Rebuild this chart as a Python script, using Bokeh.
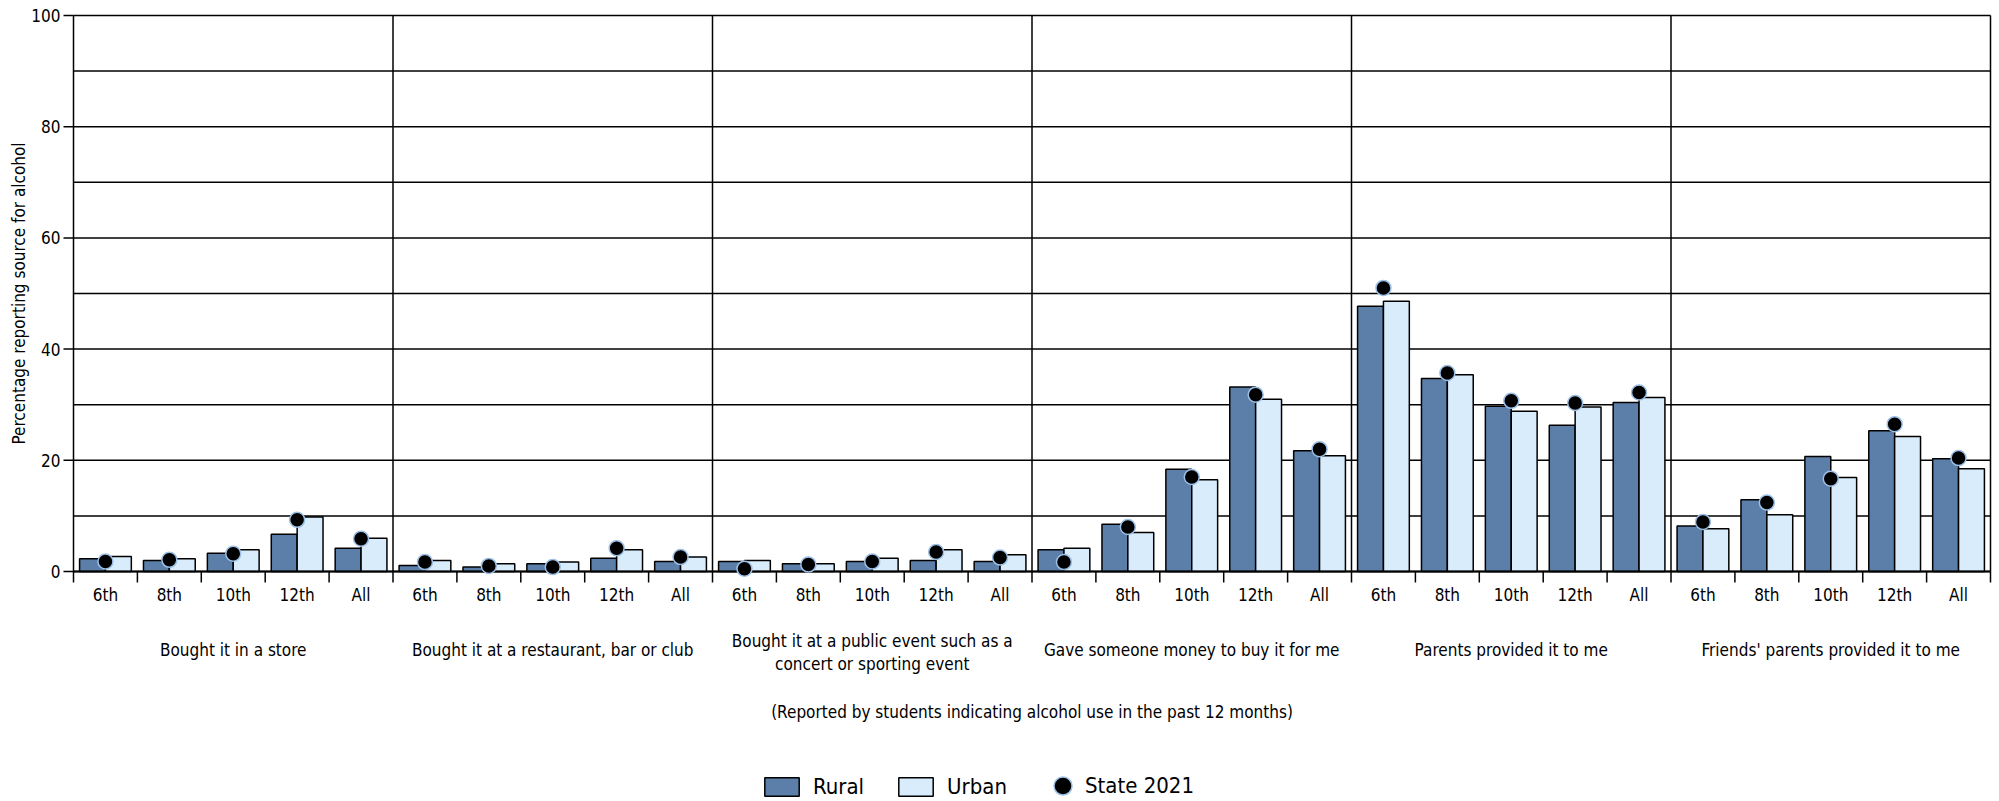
import math
from bokeh.plotting import figure
from bokeh.models import ColumnDataSource, Legend, LegendItem, Label
from bokeh.core.properties import value
from bokeh.embed import file_html
from bokeh.resources import INLINE

FONT = "DejaVu Sans Condensed, Liberation Sans"

groups = ["Bought it in a store",
          "Bought it at a restaurant, bar or club",
          "Bought it at a public event such as a\nconcert or sporting event",
          "Gave someone money to buy it for me",
          "Parents provided it to me",
          "Friends' parents provided it to me"]
grades = ["6th", "8th", "10th", "12th", "All"]

rural = [2.3, 2.0, 3.3, 6.7, 4.2,
         1.1, 0.8, 1.4, 2.4, 1.8,
         1.8, 1.4, 1.8, 2.0, 1.8,
         3.9, 8.5, 18.4, 33.2, 21.7,
         47.7, 34.7, 29.7, 26.3, 30.4,
         8.2, 12.9, 20.7, 25.3, 20.3]
urban = [2.7, 2.3, 3.9, 9.8, 6.0,
         2.0, 1.4, 1.7, 3.9, 2.6,
         2.0, 1.4, 2.4, 3.9, 3.0,
         4.2, 7.0, 16.5, 31.0, 20.8,
         48.6, 35.4, 28.8, 29.6, 31.3,
         7.7, 10.2, 16.9, 24.3, 18.5]
state = [1.8, 2.1, 3.2, 9.3, 5.9,
         1.7, 1.0, 0.8, 4.2, 2.6,
         0.5, 1.25, 1.8, 3.5, 2.5,
         1.7, 8.0, 17.0, 31.8, 22.0,
         51.0, 35.7, 30.7, 30.3, 32.2,
         8.9, 12.4, 16.7, 26.5, 20.4]

y_ticks = [0, 20, 40, 60, 80, 100]
y_grid = [0, 10, 20, 30, 40, 50, 60, 70, 80, 90, 100]
y_title = "Percentage reporting source for alcohol"
subtitle = "(Reported by students indicating alcohol use in the past 12 months)"

RURAL_C = "#5b7fa8"
URBAN_C = "#d9ecfc"
DOT_LINE = "#9cc0e6"

n = len(rural)
ng = len(groups)
per = len(grades)
YMAX = 100

# pixel geometry (frame covers whole canvas)
W, H = 1999, 801
PLOT_L, PLOT_R, PLOT_T, BASE = 73, 1990, 15, 571
ux = (PLOT_R - PLOT_L) / n          # px per category
uy = (BASE - PLOT_T) / YMAX         # px per percent
x_lo = -PLOT_L / ux
x_hi = n + (W - PLOT_R) / ux
y_hi = YMAX + PLOT_T / uy
y_lo = -(H - BASE) / uy

def px_x(px):
    return px / ux

def px_y(px):
    return px / uy

centers = [i + 0.5 for i in range(n)]
bw = 0.405
src = ColumnDataSource(dict(
    xr=[c - bw / 2 for c in centers],
    xu=[c + bw / 2 for c in centers],
    xc=centers,
    rural=rural, urban=urban, state=state,
    grade=[grades[i % per] for i in range(n)],
))

p = figure(width=W, height=H, x_range=(x_lo, x_hi), y_range=(y_lo, y_hi),
           output_backend="svg", toolbar_location=None,
           min_border=0, min_border_left=0, min_border_right=0,
           min_border_top=0, min_border_bottom=0)
p.outline_line_color = None
p.background_fill_color = "white"
p.xaxis.visible = False
p.yaxis.visible = False
p.xgrid.visible = False
p.ygrid.visible = False

# horizontal grid lines
p.segment(x0=[0] * len(y_grid), y0=y_grid, x1=[n] * len(y_grid), y1=y_grid,
          line_color="black", line_width=1.5)

# group separators + right edge
sep_x = [per * k for k in range(1, ng + 1)]
p.segment(x0=sep_x, y0=[0] * len(sep_x), x1=sep_x, y1=[YMAX] * len(sep_x),
          line_color="black", line_width=1.5)

# y axis line, ticks, labels, title
p.segment(x0=[0], y0=[0], x1=[0], y1=[YMAX], line_color="black", line_width=1.5)
p.segment(x0=[0] * len(y_ticks), y0=y_ticks, x1=[-px_x(10)] * len(y_ticks), y1=y_ticks,
          line_color="black", line_width=1.5)
p.text(x=[-px_x(13)] * len(y_ticks), y=y_ticks, text=[str(t) for t in y_ticks],
       text_align="right", text_baseline="middle", text_font=value(FONT),
       text_font_size="17px", text_color="black")
p.text(x=[-px_x(PLOT_L - 18)], y=[YMAX / 2], text=[y_title], angle=math.pi / 2,
       text_align="center", text_baseline="middle", text_font=value(FONT),
       text_font_size="17px", text_color="black")

# bars
r_rural = p.vbar(x="xr", top="rural", width=bw, bottom=0, source=src,
                 fill_color=RURAL_C, line_color="black", line_width=1.5)
r_urban = p.vbar(x="xu", top="urban", width=bw, bottom=0, source=src,
                 fill_color=URBAN_C, line_color="black", line_width=1.5)

# baseline and category boundary ticks
p.segment(x0=[0], y0=[0], x1=[n], y1=[0], line_color="black", line_width=2)
tick_x = list(range(0, n + 1))
p.segment(x0=tick_x, y0=[0] * len(tick_x), x1=tick_x, y1=[-px_y(11)] * len(tick_x),
          line_color="black", line_width=1.5)

# state dots
r_state = p.scatter(x="xc", y="state", source=src, size=15, marker="circle",
                    fill_color="black", line_color=DOT_LINE, line_width=1.5)

# grade labels
p.text(x="xc", y=-px_y(23), text="grade", source=src, text_align="center",
       text_baseline="middle", text_font=value(FONT), text_font_size="17px",
       text_color="black")

# group labels
for k, g in enumerate(groups):
    lines = g.split("\n")
    offs = [78] if len(lines) == 1 else [69, 92]
    for line, off in zip(lines, offs):
        p.add_layout(Label(x=per * k + per / 2, y=-px_y(off), text=line,
                           text_align="center", text_baseline="middle",
                           text_font=FONT, text_font_size="17px",
                           text_color="black"))

p.add_layout(Label(x=n / 2, y=-px_y(140), text=subtitle,
                   text_align="center", text_baseline="middle", text_font=FONT,
                   text_font_size="17px", text_color="black"))

common = dict(orientation="horizontal", padding=0, margin=0, border_line_alpha=0,
              background_fill_alpha=0, label_text_font=FONT,
              label_text_font_size="22px", label_text_color="black")
legend1 = Legend(items=[LegendItem(label="Rural", renderers=[r_rural]),
                        LegendItem(label="Urban", renderers=[r_urban])],
                 location=(760, 2), glyph_width=43, glyph_height=23,
                 label_standoff=10, spacing=30, **common)
legend2 = Legend(items=[LegendItem(label="State 2021", renderers=[r_state])],
                 location=(1040, -7), glyph_width=45, glyph_height=45,
                 label_standoff=-3, spacing=0, **common)
p.add_layout(legend1, "center")
p.add_layout(legend2, "center")

open("out.html", "w").write(file_html(p, INLINE))
